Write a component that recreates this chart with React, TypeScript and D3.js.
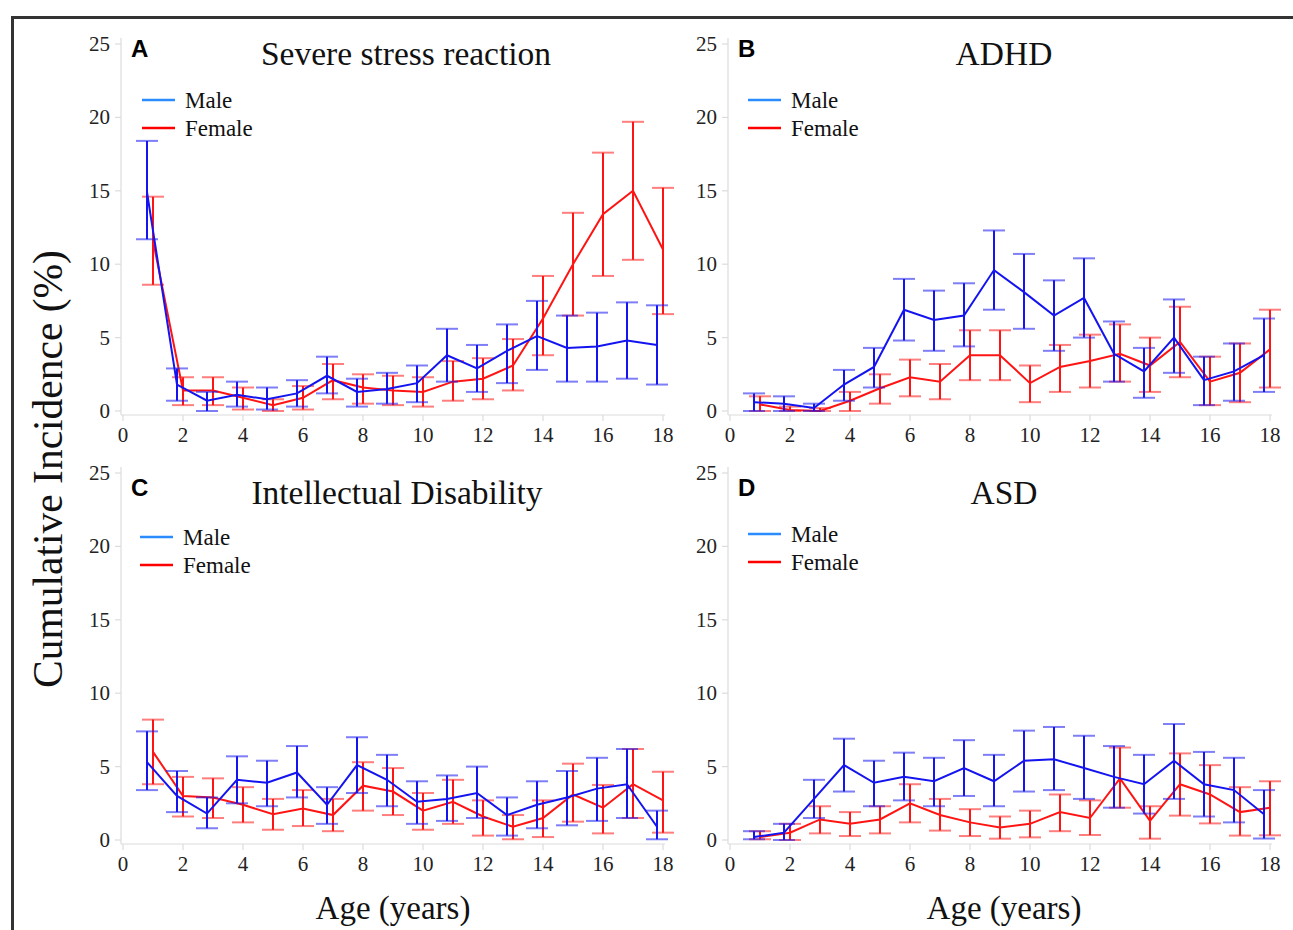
import React from "react";
import * as d3 from "d3";

// ages 1..18, incidence in %
const ages = [1, 2, 3, 4, 5, 6, 7, 8, 9, 10, 11, 12, 13, 14, 15, 16, 17, 18];
const yTicks = [0, 5, 10, 15, 20, 25];
const xTicks = [0, 2, 4, 6, 8, 10, 12, 14, 16, 18];

// A: severe stress reaction
const stressMale = [14.9, 1.8, 0.7, 1.1, 0.8, 1.2, 2.4, 1.3, 1.5, 1.9, 3.8, 2.9, 4.1, 5.1, 4.3, 4.4, 4.8, 4.5];
const stressMaleLo = [11.7, 0.7, 0, 0.3, 0.1, 0.3, 1.2, 0.3, 0.5, 0.6, 2.0, 1.3, 1.9, 2.8, 2.0, 2.0, 2.2, 1.8];
const stressMaleHi = [18.4, 2.9, 1.3, 2.0, 1.6, 2.1, 3.7, 2.2, 2.6, 3.1, 5.6, 4.5, 5.9, 7.5, 6.5, 6.7, 7.4, 7.2];
const stressFemale = [11.6, 1.4, 1.4, 0.9, 0.4, 0.9, 2.1, 1.6, 1.4, 1.3, 2.0, 2.2, 3.1, 6.3, 10.0, 13.4, 15.0, 11.0];
const stressFemaleLo = [8.6, 0.4, 0.4, 0.1, 0, 0.1, 0.8, 0.5, 0.4, 0.3, 0.7, 0.8, 1.4, 3.8, 6.5, 9.2, 10.3, 6.6];
const stressFemaleHi = [14.6, 2.3, 2.3, 1.6, 0.8, 1.7, 3.2, 2.5, 2.4, 2.3, 3.4, 3.6, 4.9, 9.2, 13.5, 17.6, 19.7, 15.2];

// B: ADHD
const adhdMale = [0.6, 0.5, 0.2, 1.8, 3.0, 6.9, 6.2, 6.5, 9.6, 8.1, 6.5, 7.7, 3.9, 2.7, 5.0, 2.1, 2.7, 3.8];
const adhdMaleLo = [0, 0, 0, 0.7, 1.6, 4.8, 4.1, 4.4, 6.9, 5.6, 4.1, 5.0, 2.0, 0.9, 2.6, 0.4, 0.7, 1.3];
const adhdMaleHi = [1.2, 1.0, 0.5, 2.8, 4.3, 9.0, 8.2, 8.7, 12.3, 10.7, 8.9, 10.4, 6.1, 4.3, 7.6, 3.7, 4.6, 6.3];
const adhdFemale = [0.45, 0.07, 0, 0.7, 1.55, 2.3, 2.0, 3.8, 3.8, 1.9, 3.0, 3.4, 3.9, 3.1, 4.7, 2.0, 2.6, 4.2];
const adhdFemaleLo = [0, 0, 0, 0, 0.5, 1.0, 0.8, 2.1, 2.1, 0.6, 1.3, 1.6, 2.0, 1.3, 2.3, 0.4, 0.6, 1.6];
const adhdFemaleHi = [1.0, 0.3, 0.2, 1.3, 2.5, 3.5, 3.2, 5.5, 5.5, 3.1, 4.5, 5.2, 5.9, 5.0, 7.1, 3.7, 4.6, 6.9];

// C: intellectual disability
const idMale = [5.3, 3.0, 1.8, 4.1, 3.9, 4.6, 2.4, 5.1, 4.1, 2.6, 2.8, 3.2, 1.7, 2.4, 2.9, 3.5, 3.8, 0.9];
const idMaleLo = [3.4, 1.9, 0.8, 2.5, 2.3, 2.9, 1.1, 3.2, 2.3, 1.1, 1.3, 1.5, 0.3, 0.8, 1.0, 1.3, 1.5, 0.05];
const idMaleHi = [7.4, 4.7, 2.9, 5.7, 5.4, 6.4, 3.6, 7.0, 5.8, 4.0, 4.4, 5.0, 2.9, 4.0, 4.7, 5.6, 6.2, 2.0];
const idFemale = [6.0, 3.0, 2.9, 2.4, 1.75, 2.15, 1.7, 3.7, 3.3, 2.0, 2.6, 1.6, 0.9, 1.5, 3.1, 2.2, 3.8, 2.7];
const idFemaleLo = [3.8, 1.6, 1.5, 1.2, 0.7, 0.95, 0.6, 2.0, 1.7, 0.7, 1.1, 0.3, 0.05, 0.2, 1.25, 0.45, 1.5, 0.5];
const idFemaleHi = [8.2, 4.3, 4.2, 3.6, 2.8, 3.4, 2.8, 5.3, 4.9, 3.2, 4.1, 2.7, 1.7, 2.7, 5.2, 3.75, 6.2, 4.65];

// D: ASD
const asdMale = [0.2, 0.5, 2.8, 5.1, 3.9, 4.3, 4.0, 4.9, 4.0, 5.4, 5.5, 4.9, 4.3, 3.8, 5.4, 3.8, 3.4, 1.75];
const asdMaleLo = [0.05, 0, 1.5, 3.3, 2.3, 2.7, 2.3, 3.0, 2.3, 3.3, 3.4, 2.8, 2.2, 1.8, 2.8, 1.6, 1.2, 0.1];
const asdMaleHi = [0.6, 1.1, 4.1, 6.9, 5.4, 5.95, 5.6, 6.8, 5.8, 7.45, 7.7, 7.1, 6.4, 5.8, 7.9, 6.0, 5.6, 3.4];
const asdFemale = [0.2, 0.5, 1.4, 1.1, 1.4, 2.5, 1.7, 1.2, 0.86, 1.1, 1.9, 1.5, 4.2, 1.3, 3.8, 3.1, 1.9, 2.2];
const asdFemaleLo = [0.05, 0, 0.45, 0.27, 0.45, 1.2, 0.64, 0.27, 0.09, 0.18, 0.6, 0.34, 2.2, 0.09, 1.66, 1.13, 0.3, 0.32];
const asdFemaleHi = [0.6, 1.1, 2.3, 1.9, 2.3, 3.8, 2.8, 2.1, 1.6, 2.0, 3.1, 2.7, 6.3, 2.3, 5.9, 5.1, 3.6, 4.0];

const BLUE = "#1414f0";
const RED = "#ff1414";
const SERIF = "'Liberation Serif', 'Times New Roman', serif";

type Series = { mean: number[]; lo: number[]; hi: number[] };

function Panel(props: {
  left: number; top: number; letter: string; title: string; titleX: number; labelDy: number;
  legendX: number; legendY: number; male: Series; female: Series;
}) {
  const { left, top, letter, title, titleX, labelDy, legendX, legendY, male, female } = props;
  const x = d3.scaleLinear().domain([0, 18]).range([left, left + 540]);
  const y = d3.scaleLinear().domain([0, 25]).range([top + 367, top]);
  const axisY = top + 371;
  const axisX = left - 2;

  const drawSeries = (s: Series, color: string, offset: number) => {
    const pts = ages.map((a, i) => ({ a: a + offset, v: s.mean[i], lo: s.lo[i], hi: s.hi[i] }));
    const line = d3.line<any>().x(d => x(d.a)).y(d => y(d.v));
    return (
      <g>
        {pts.map((d, i) => (
          <g key={i}>
            <line x1={x(d.a)} x2={x(d.a)} y1={y(d.lo)} y2={y(d.hi)} stroke={color} strokeWidth={2} />
            <line x1={x(d.a) - 11} x2={x(d.a) + 11} y1={y(d.lo)} y2={y(d.lo)} stroke={color} strokeOpacity={0.55} strokeWidth={2} />
            <line x1={x(d.a) - 11} x2={x(d.a) + 11} y1={y(d.hi)} y2={y(d.hi)} stroke={color} strokeOpacity={0.55} strokeWidth={2} />
          </g>
        ))}
        <path d={line(pts) || ""} fill="none" stroke={color} strokeWidth={2} />
      </g>
    );
  };

  return (
    <g>
      {/* axes */}
      <line x1={axisX} x2={axisX} y1={top - 6} y2={axisY} stroke="#dcdcdc" strokeWidth={1.2} />
      <line x1={axisX} x2={x(18) + 2} y1={axisY} y2={axisY} stroke="#dcdcdc" strokeWidth={1.2} />
      {yTicks.map(t => (
        <g key={"y" + t}>
          <line x1={axisX - 6} x2={axisX} y1={y(t)} y2={y(t)} stroke="#dcdcdc" strokeWidth={1.2} />
          <text x={axisX - 11} y={y(t) + 7} textAnchor="end" fontFamily={SERIF} fontSize={21} fill="#222">{t}</text>
        </g>
      ))}
      {xTicks.map(t => (
        <g key={"x" + t}>
          <line x1={x(t)} x2={x(t)} y1={axisY} y2={axisY + 6} stroke="#dcdcdc" strokeWidth={1.2} />
          <text x={x(t)} y={axisY + 27} textAnchor="middle" fontFamily={SERIF} fontSize={21} fill="#222">{t}</text>
        </g>
      ))}
      <text x={left + 8} y={top + 13 + labelDy} fontFamily="'Liberation Sans', Arial, sans-serif" fontWeight="bold" fontSize={24} fill="#000">{letter}</text>
      <text x={titleX} y={top + 21 + labelDy} textAnchor="middle" fontFamily={SERIF} fontSize={33.5} fill="#111">{title}</text>
      {/* legend */}
      <line x1={legendX} x2={legendX + 33} y1={legendY} y2={legendY} stroke="#2a8cff" strokeWidth={2.5} />
      <text x={legendX + 43} y={legendY + 8} fontFamily={SERIF} fontSize={23} fill="#111">Male</text>
      <line x1={legendX} x2={legendX + 33} y1={legendY + 28} y2={legendY + 28} stroke="#ff0000" strokeWidth={2.5} />
      <text x={legendX + 43} y={legendY + 36} fontFamily={SERIF} fontSize={23} fill="#111">Female</text>
      {drawSeries(female, RED, 0)}
      {drawSeries(male, BLUE, -0.2)}
    </g>
  );
}

export default function App() {
  return (
    <div style={{ position: "absolute", left: 0, top: 0 }}>
      <svg width={1293} height={930} style={{ display: "block", background: "#fff" }}>
        <rect x={12.5} y={17.5} width={1300} height={930} fill="none" stroke="#333" strokeWidth={3} />
        <Panel left={123} top={44} letter="A" title="Severe stress reaction" titleX={406} labelDy={0} legendX={142} legendY={100}
          male={{ mean: stressMale, lo: stressMaleLo, hi: stressMaleHi }}
          female={{ mean: stressFemale, lo: stressFemaleLo, hi: stressFemaleHi }} />
        <Panel left={730} top={44} letter="B" title="ADHD" titleX={1004} labelDy={0} legendX={748} legendY={100}
          male={{ mean: adhdMale, lo: adhdMaleLo, hi: adhdMaleHi }}
          female={{ mean: adhdFemale, lo: adhdFemaleLo, hi: adhdFemaleHi }} />
        <Panel left={123} top={473} letter="C" title="Intellectual Disability" titleX={397} labelDy={10} legendX={140} legendY={537}
          male={{ mean: idMale, lo: idMaleLo, hi: idMaleHi }}
          female={{ mean: idFemale, lo: idFemaleLo, hi: idFemaleHi }} />
        <Panel left={730} top={473} letter="D" title="ASD" titleX={1004} labelDy={10} legendX={748} legendY={534}
          male={{ mean: asdMale, lo: asdMaleLo, hi: asdMaleHi }}
          female={{ mean: asdFemale, lo: asdFemaleLo, hi: asdFemaleHi }} />
        <text transform="translate(62,469) rotate(-90)" textAnchor="middle" fontFamily={SERIF} fontSize={41.5} fill="#111">Cumulative Incidence (%)</text>
        <text x={393} y={919} textAnchor="middle" fontFamily={SERIF} fontSize={33} fill="#111">Age (years)</text>
        <text x={1004} y={919} textAnchor="middle" fontFamily={SERIF} fontSize={33} fill="#111">Age (years)</text>
      </svg>
    </div>
  );
}
